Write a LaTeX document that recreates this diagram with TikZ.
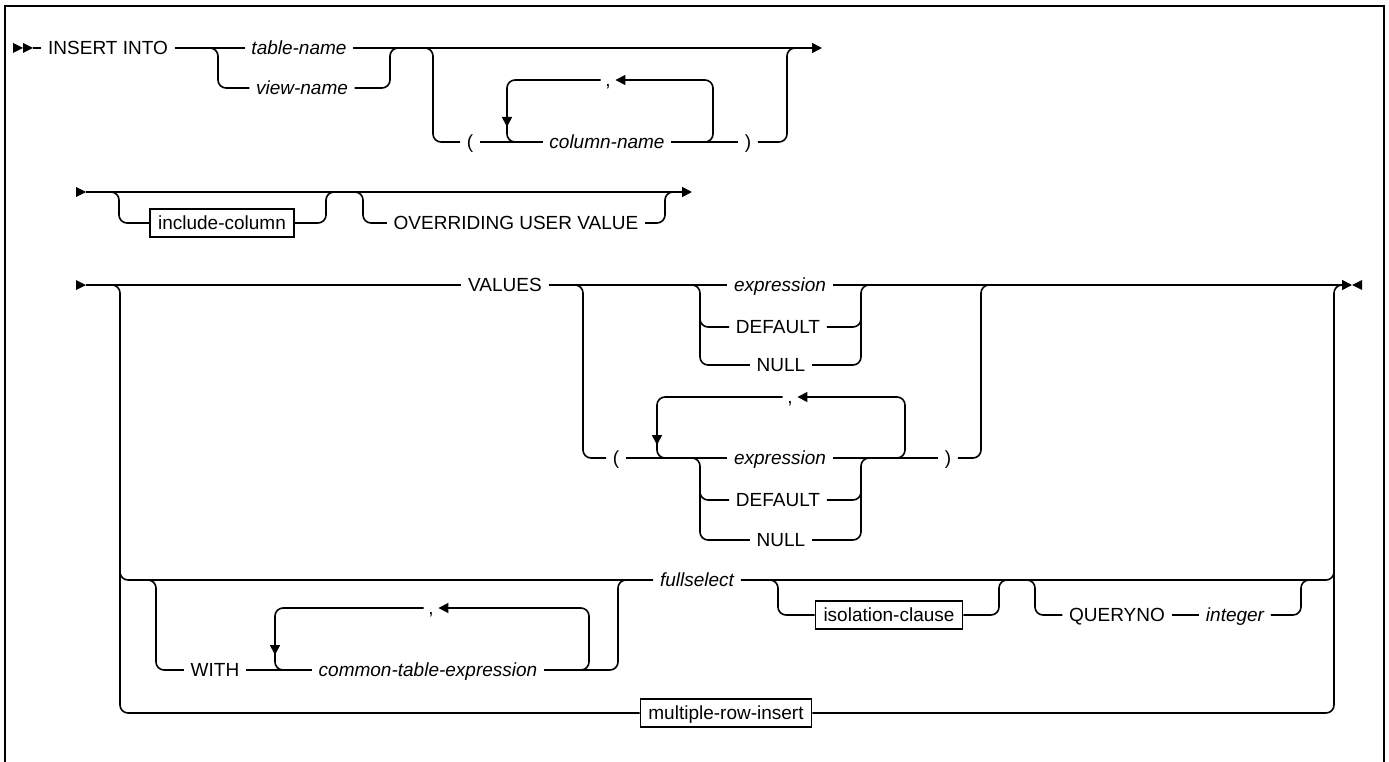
\documentclass[tikz,border=0pt]{standalone}
\usepackage{fontspec}
\setmainfont{Liberation Sans}
\usetikzlibrary{arrows.meta}
\begin{document}
\begin{tikzpicture}[x=1pt,y=-1pt,line width=1.6pt,
  rnd/.style={rounded corners=8pt},
  kwnode/.style={font=\fontsize{19}{22}\selectfont, inner xsep=6pt, inner ysep=0pt, text height=13.6pt, text depth=0pt},
  varnode/.style={kwnode, font=\fontsize{19}{22}\selectfont\itshape},
  commanode/.style={kwnode, inner xsep=4pt},
  boxnode/.style={draw, line width=1.6pt, font=\fontsize{19}{22}\selectfont, inner xsep=8pt, inner ysep=0pt, text height=13.6pt, text depth=0pt, minimum height=28pt},
  arrowtip/.style={-{Triangle[length=10pt,width=10pt]}}]
\useasboundingbox (0,0) rectangle (1389,762);
% frame
\draw[line width=2.6pt] (5,762) -- (5,6) -- (1384,6) -- (1384,762);

% ---------- Row 1
\coordinate (s1) at (13,48);
\coordinate (s1t) at (33,48);
\node[kwnode] (insert) at (108,48) {INSERT INTO};
\node[varnode] (tname) at (299,48) {table-name};
\node[varnode] (vname) at (302,88) {view-name};
\coordinate (c1L) at (218,48);
\coordinate (c1R) at (390,48);
\coordinate (o1L) at (433,48);
\coordinate (o1R) at (787,48);
\coordinate (e1) at (822,48);
\node[kwnode] (lpar1) at (470,142) {(};
\node[varnode] (colname) at (607,142) {column-name};
\node[kwnode] (rpar1) at (748,142) {)};
\node[commanode] (comma1) at (608,80) {,};
\coordinate (l1L) at (507,80);
\coordinate (l1R) at (713,80);
\coordinate (l1Lb) at (507,142);
\coordinate (l1Rb) at (700,142);
\coordinate (l1Am) at (507,100);
\coordinate (l1A) at (507,127);

\fill (s1) ++(0,-5) -- ++(10,5) -- ++(-10,5) -- cycle;
\fill (s1) ++(10,-5) -- ++(10,5) -- ++(-10,5) -- cycle;
\draw (s1t) -- (insert.west);
\draw (insert.east) -- (tname.west);
\draw[arrowtip] (tname.east) -- (e1);
\draw[rnd] ([xshift=-12pt]c1L) -| (c1L |- vname.west) -- (vname.west);
\draw[rnd] (vname.east) -| (c1R) -- ([xshift=12pt]c1R);
\draw[rnd] ([xshift=-12pt]o1L) -| (o1L |- lpar1.west) -- (lpar1.west);
\draw (lpar1.east) -- (colname.west);
\draw (colname.east) -- (rpar1.west);
\draw[rnd] (rpar1.east) -| (o1R) -- ([xshift=12pt]o1R);
\draw[rnd,arrowtip] (l1Rb) -| (l1R) -- (comma1.east);
\draw[rnd] (comma1.west) -| (l1Lb) -- ([xshift=14pt]l1Lb);
\draw[arrowtip] (l1Am) -- (l1A);

% ---------- Row 2
\coordinate (s2) at (76,192);
\coordinate (s2t) at (86,192);
\coordinate (e2) at (692,192);
\coordinate (i2L) at (119,192);
\coordinate (i2R) at (326,192);
\coordinate (o2L) at (363,192);
\coordinate (o2R) at (665,192);
\node[boxnode] (inccol) at (222,223) {include-column};
\node[kwnode] (overr) at (516,223) {OVERRIDING USER VALUE};
\fill (s2) ++(0,-5) -- ++(10,5) -- ++(-10,5) -- cycle;
\draw[arrowtip] (s2t) -- (e2);
\draw[rnd] ([xshift=-12pt]i2L) -| (i2L |- inccol.west) -- (inccol.west);
\draw[rnd] (inccol.east) -| (i2R) -- ([xshift=12pt]i2R);
\draw[rnd] ([xshift=-12pt]o2L) -| (o2L |- overr.west) -- (overr.west);
\draw[rnd] (overr.east) -| (o2R) -- ([xshift=12pt]o2R);

% ---------- Row 3
\coordinate (s3) at (76,285);
\coordinate (s3t) at (86,285);
\coordinate (e3) at (1352,285);
\node[kwnode] (values) at (505,285) {VALUES};
\node[varnode] (expr1) at (780,285) {expression};
\node[kwnode] (def1) at (778,327) {DEFAULT};
\node[kwnode] (null1) at (781,365) {NULL};
\node[kwnode] (lpar2) at (616,458) {(};
\node[varnode] (expr2) at (780,458) {expression};
\node[kwnode] (def2) at (778,500) {DEFAULT};
\node[kwnode] (null2) at (781,540) {NULL};
\node[kwnode] (rpar2) at (948,458) {)};
\node[commanode] (comma2) at (790,397) {,};
\coordinate (bL) at (120,285);
\coordinate (bR) at (1334,285);
\coordinate (bLm) at (120,560);
\coordinate (bRm) at (1334,560);
\coordinate (vL) at (583,285);
\coordinate (vR) at (981,285);
\coordinate (cL1) at (700,285);
\coordinate (cR1) at (861,285);
\coordinate (cL1m) at (700,305);
\coordinate (cR1m) at (861,305);
\coordinate (cL2) at (700,458);
\coordinate (cR2) at (861,458);
\coordinate (cL2m) at (700,478);
\coordinate (cR2m) at (861,478);
\coordinate (l2L) at (657,397);
\coordinate (l2R) at (905,397);
\coordinate (l2Lb) at (657,458);
\coordinate (l2Rb) at (893,458);
\coordinate (l2Am) at (657,418);
\coordinate (l2A) at (657,445);

\fill (s3) ++(0,-5) -- ++(10,5) -- ++(-10,5) -- cycle;
\draw (s3t) -- (values.west);
\draw (values.east) -- (expr1.west);
\draw[arrowtip] (expr1.east) -- (e3);
\fill (e3) ++(10,-5) -- ++(-10,5) -- ++(10,5) -- cycle;

% choice 1
\draw[rnd] ([xshift=-12pt]cL1) -| (cL1 |- null1.west) -- (null1.west);
\draw[rnd] (cL1m) |- (def1.west);
\draw[rnd] (null1.east) -| (cR1) -- ([xshift=12pt]cR1);
\draw[rnd] (def1.east) -| (cR1m);

% VALUES group lower branch
\draw[rnd] ([xshift=-12pt]vL) -| (vL |- lpar2.west) -- (lpar2.west);
\draw (lpar2.east) -- (expr2.west);
\draw (expr2.east) -- (rpar2.west);
\draw[rnd] (rpar2.east) -| (vR) -- ([xshift=12pt]vR);
% choice 2
\draw[rnd] ([xshift=-12pt]cL2) -| (cL2 |- null2.west) -- (null2.west);
\draw[rnd] (cL2m) |- (def2.west);
\draw[rnd] (null2.east) -| (cR2) -- ([xshift=12pt]cR2);
\draw[rnd] (def2.east) -| (cR2m);
% loop 2
\draw[rnd,arrowtip] (l2Rb) -| (l2R) -- (comma2.east);
\draw[rnd] (comma2.west) -| (l2Lb) -- ([xshift=12pt]l2Lb);
\draw[arrowtip] (l2Am) -- (l2A);

% ---------- fullselect row
\node[varnode] (fsel) at (697,580) {fullselect};
\node[kwnode] (with) at (215,670) {WITH};
\node[varnode] (cte) at (428,670) {common-table-expression};
\node[commanode] (comma3) at (431,608) {,};
\node[boxnode] (iso) at (889,615) {isolation-clause};
\node[kwnode] (qno) at (1117,615) {QUERYNO};
\node[varnode] (intg) at (1235,615) {integer};
\node[boxnode] (mri) at (726,713) {multiple-row-insert};
\coordinate (wL) at (156,580);
\coordinate (wR) at (618,580);
\coordinate (l3L) at (275,608);
\coordinate (l3R) at (589,608);
\coordinate (l3Lb) at (275,670);
\coordinate (l3Rb) at (577,670);
\coordinate (l3Am) at (275,628);
\coordinate (l3A) at (275,655);
\coordinate (isoL) at (778,580);
\coordinate (isoR) at (999,580);
\coordinate (qL) at (1035,580);
\coordinate (qR) at (1301,580);

% big left / right
\draw[rnd] ([xshift=-12pt]bL) -| (bL |- mri.west) -- (mri.west);
\draw[rnd] (bLm) |- (fsel.west);
\draw[rnd] (mri.east) -| (bR) -- ([xshift=10pt]bR);
\draw[rnd] (fsel.east) -| (bRm);

% WITH group
\draw[rnd] ([xshift=-12pt]wL) -| (wL |- with.west) -- (with.west);
\draw (with.east) -- (cte.west);
\draw[rnd] (cte.east) -| (wR) -- ([xshift=12pt]wR);
\draw[rnd,arrowtip] (l3Rb) -| (l3R) -- (comma3.east);
\draw[rnd] (comma3.west) -| (l3Lb) -- ([xshift=12pt]l3Lb);
\draw[arrowtip] (l3Am) -- (l3A);

% isolation / QUERYNO
\draw[rnd] ([xshift=-12pt]isoL) -| (isoL |- iso.west) -- (iso.west);
\draw[rnd] (iso.east) -| (isoR) -- ([xshift=12pt]isoR);
\draw[rnd] ([xshift=-12pt]qL) -| (qL |- qno.west) -- (qno.west);
\draw (qno.east) -- (intg.west);
\draw[rnd] (intg.east) -| (qR) -- ([xshift=12pt]qR);
\end{tikzpicture}
\end{document}
